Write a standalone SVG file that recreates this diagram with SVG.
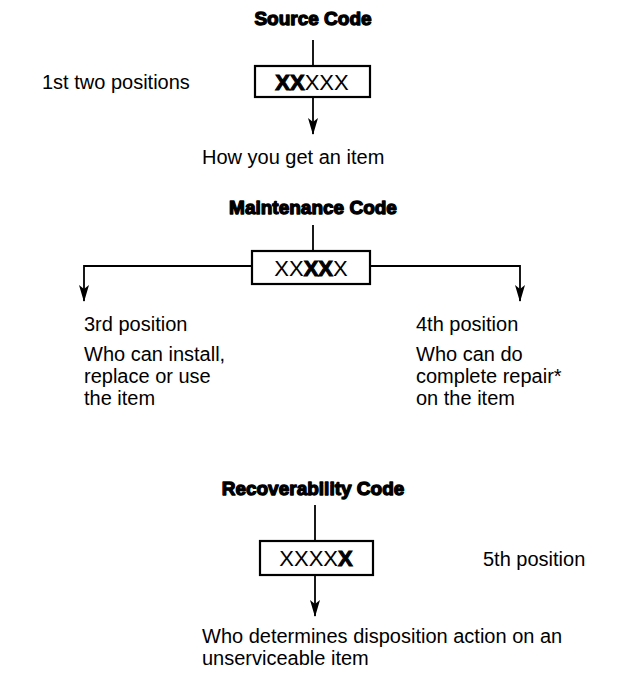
<svg xmlns="http://www.w3.org/2000/svg" width="633" height="676" viewBox="0 0 633 676">
<style>
.title{font-family:"Liberation Sans",Arial,sans-serif;font-weight:bold;font-size:19px;fill:#000;stroke:#000;stroke-width:1.3;stroke-linejoin:round;text-anchor:middle}
.t{font-family:"Liberation Sans",Arial,sans-serif;font-size:20px;fill:#000}
.code{font-family:"Liberation Sans",Arial,sans-serif;font-size:22px;fill:#000;text-anchor:middle}
.b{font-weight:bold;stroke:#000;stroke-width:1}
.box{fill:#fff;stroke:#000;stroke-width:2.2}
.ln{fill:none;stroke:#000;stroke-width:1.8}
</style>
<defs>
<marker id="ah" markerWidth="17" markerHeight="10" refX="16" refY="5" orient="auto" markerUnits="userSpaceOnUse" viewBox="0 0 17 10">
<path d="M0,0 L4,5 L0,10 L17,5 Z" fill="#000"/>
</marker>
</defs>
<g id="connectors">
<line class="ln" x1="313" y1="40" x2="313" y2="66"/>
<line class="ln" x1="313" y1="97" x2="313" y2="134" marker-end="url(#ah)"/>
<line class="ln" x1="313" y1="225" x2="313" y2="251"/>
<polyline class="ln" points="252,266 84,266 84,301" marker-end="url(#ah)"/>
<polyline class="ln" points="370,266 520,266 520,301" marker-end="url(#ah)"/>
<line class="ln" x1="315" y1="505" x2="315" y2="541"/>
<line class="ln" x1="315" y1="575" x2="315" y2="616" marker-end="url(#ah)"/>
</g>
<g id="source">
<text class="title" x="313" y="25">Source Code</text>
<rect class="box" x="255" y="66" width="115" height="31"/>
<text class="code" x="312" y="90"><tspan class="b">XX</tspan>XXX</text>
<text class="t" x="42" y="89">1st two positions</text>
<text class="t" x="202" y="164">How you get an item</text>
</g>
<g id="maintenance">
<text class="title" x="313" y="214">Maintenance Code</text>
<rect class="box" x="252" y="251" width="118" height="33"/>
<text class="code" x="311" y="276">XX<tspan class="b">XX</tspan>X</text>
</g>
<g id="third">
<text class="t" x="84" y="331">3rd position</text>
<text class="t" x="84" y="361">Who can install,</text>
<text class="t" x="84" y="383">replace or use</text>
<text class="t" x="84" y="405">the item</text>
</g>
<g id="fourth">
<text class="t" x="416" y="331">4th position</text>
<text class="t" x="416" y="361">Who can do</text>
<text class="t" x="416" y="383">complete repair*</text>
<text class="t" x="416" y="405">on the item</text>
</g>
<g id="recoverability">
<text class="title" x="313" y="495">Recoverability Code</text>
<rect class="box" x="260" y="541" width="113" height="34"/>
<text class="code" x="316" y="566">XXXX<tspan class="b">X</tspan></text>
<text class="t" x="483" y="566">5th position</text>
<text class="t" x="202" y="643">Who determines disposition action on an</text>
<text class="t" x="202" y="665">unserviceable item</text>
</g>
</svg>
